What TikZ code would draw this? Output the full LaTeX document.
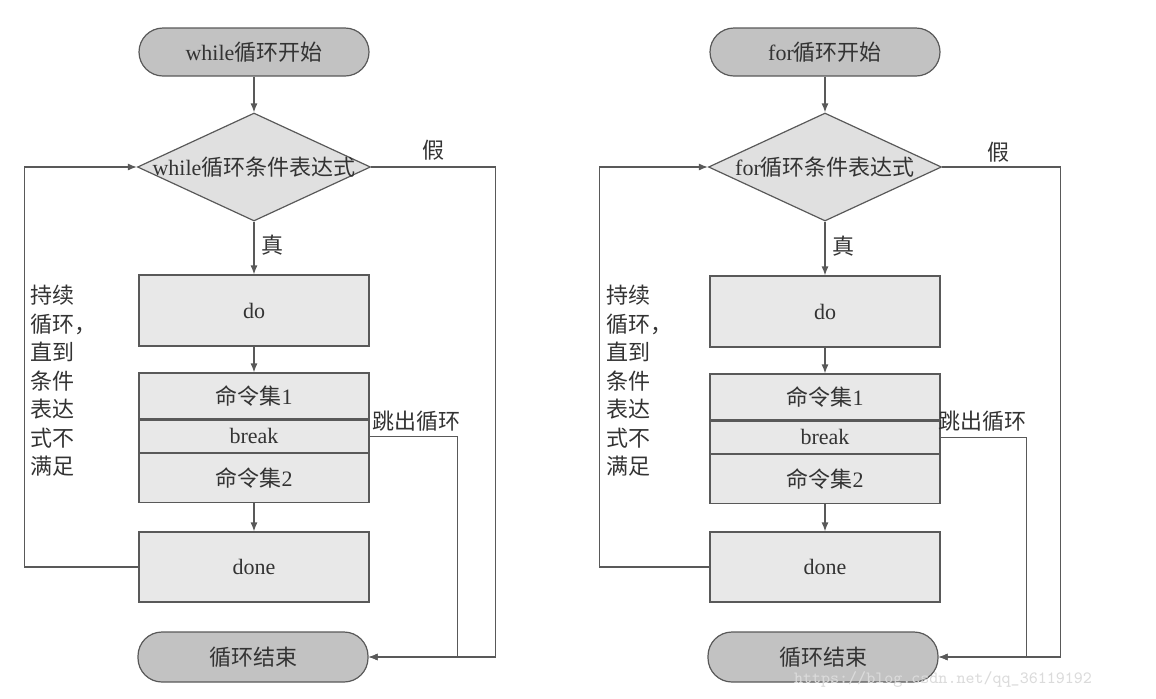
\documentclass[tikz,border=0pt]{standalone}
\usepackage{fontspec}
\setmainfont{Liberation Serif}
\newfontfamily\cjk{Noto Sans CJK SC}
\usepackage{xcolor}
\usepackage{tikz}
\usetikzlibrary{shapes.geometric}
\usetikzlibrary{arrows.meta}
\usetikzlibrary{positioning}

\begin{document}
\begin{tikzpicture}[x=0.5pt, y=-0.5pt,
    font=\fontsize{11}{13}\selectfont, text=black!80,
    terminal/.style={draw=black!65, fill=black!24, line width=0.6pt,
        rounded corners=12pt, minimum width=115pt, minimum height=24pt},
    decision/.style={diamond, draw=black!65, fill=black!12, line width=0.6pt,
        inner sep=0pt, minimum width=116.5pt, minimum height=54pt},
    block/.style={draw=black!65, fill=black!9, line width=0.6pt,
        inner sep=0pt, minimum width=115pt},
    arr/.style={draw=black!65, line width=0.6pt, -{Latex[length=4.5pt,width=3.5pt]}},
    note/.style={align=left, font=\cjk\fontsize{11}{14.25}\selectfont}]
    \useasboundingbox (0, 0) rectangle (1156, 698);

    % while loop
    \node[terminal] (wstart) at (254, 52) {while{\cjk 循环开始}};
    \node[decision, label=center:{while{\cjk 循环条件表达式}}] (wcond) at (254, 167) {};
    \node[block, minimum height=35.5pt] (wdo) at (254, 310.5) {do};
    \node[block, minimum height=23pt] (wcmd1) at (254, 396) {{\cjk 命令集}1};
    \node[block, minimum height=16pt, below=0pt of wcmd1] (wbrk) {break};
    \node[block, minimum height=24.5pt, below=0pt of wbrk] (wcmd2) {{\cjk 命令集}2};
    \node[block, minimum height=35pt] (wdone) at (254, 567) {done};
    \node[terminal, minimum height=25pt] (wend) at (253, 657) {\cjk 循环结束};

    \draw[arr] (wstart) -- (wcond);
    \draw[arr] (wcond) -- node[right, pos=0.45] (wtrue) {\cjk 真} (wdo);
    \draw[arr] (wdo) -- (wcmd1);
    \draw[arr] (wcmd2) -- (wdone);
    \draw[arr] (wdone.west) -- ++(-114, 0) |- (wcond.west);
    \draw[arr] (wcond.east) -- ++(124, 0) |- (wend.east);
    \draw[arr] (wbrk.east) -- ++(88, 0) |- (wend.east);

    \node (wfalse) at (433, 150) {\cjk 假};
    \node (wjump) at (416, 421) {\cjk 跳出循环};
    \node[note] (wnote) at (63, 381) {持续\\循环，\\直到\\条件\\表达\\式不\\满足};

    % for loop
    \node[terminal] (fstart) at (825, 52) {for{\cjk 循环开始}};
    \node[decision, label=center:{for{\cjk 循环条件表达式}}] (fcond) at (825, 167) {};
    \node[block, minimum height=35.5pt] (fdo) at (825, 311.5) {do};
    \node[block, minimum height=23pt] (fcmd1) at (825, 397) {{\cjk 命令集}1};
    \node[block, minimum height=16pt, below=0pt of fcmd1] (fbrk) {break};
    \node[block, minimum height=24.5pt, below=0pt of fbrk] (fcmd2) {{\cjk 命令集}2};
    \node[block, minimum height=35pt] (fdone) at (825, 567) {done};
    \node[terminal, minimum height=25pt] (fend) at (823, 657) {\cjk 循环结束};

    \draw[arr] (fstart) -- (fcond);
    \draw[arr] (fcond) -- node[right, pos=0.45] (ftrue) {\cjk 真} (fdo);
    \draw[arr] (fdo) -- (fcmd1);
    \draw[arr] (fcmd2) -- (fdone);
    \draw[arr] (fdone.west) -- ++(-110, 0) |- (fcond.west);
    \draw[arr] (fcond.east) -- ++(118, 0) |- (fend.east);
    \draw[arr] (fbrk.east) -- ++(86, 0) |- (fend.east);

    \node (ffalse) at (998, 152) {\cjk 假};
    \node (fjump) at (982, 421) {\cjk 跳出循环};
    \node[note] (fnote) at (639, 381) {持续\\循环，\\直到\\条件\\表达\\式不\\满足};

    \node[text=black!14, font=\ttfamily\fontsize{8.6}{10}\selectfont] (wmark) at (943, 679) {https://blog.csdn.net/qq\_36119192};
\end{tikzpicture}
\end{document}
